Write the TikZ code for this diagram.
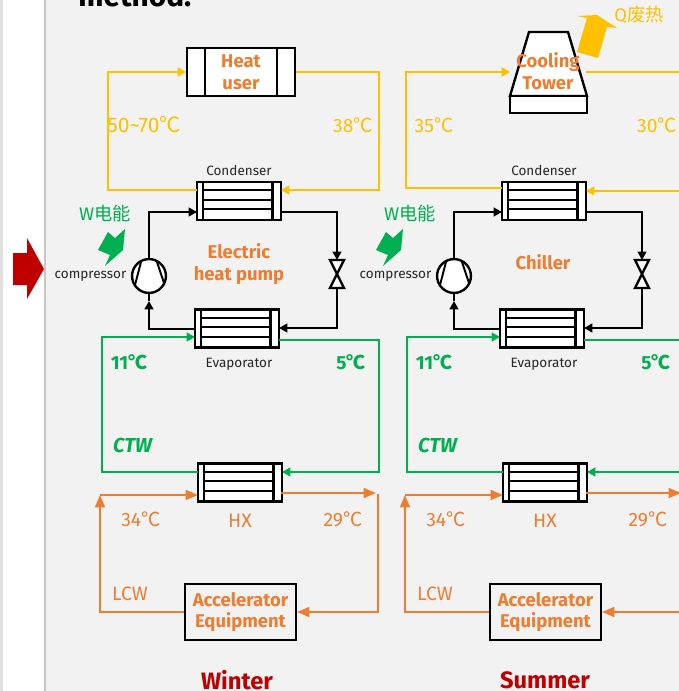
\documentclass[tikz,border=0pt]{standalone}
\usepackage{fontspec}
\usepackage{xcolor}
\setmainfont{Fira Sans}
\newfontfamily\cjk{Noto Sans CJK SC}
\usetikzlibrary{arrows.meta}
\definecolor{colBg}{RGB}{242,242,242}
\definecolor{colY}{RGB}{255,192,0}
\definecolor{colG}{RGB}{0,176,80}
\definecolor{colO}{RGB}{237,125,49}
\definecolor{colR}{RGB}{192,0,0}
\def\u{0.567pt}
\newcommand{\dgc}{{\cjk ℃}}
\tikzset{
    pipeK/.style={draw=black, line width=1.35pt},
    pipeY/.style={draw=colY, line width=1.35pt},
    pipeG/.style={draw=colG, line width=1.35pt},
    pipeO/.style={draw=colO, line width=1.35pt},
    tipS/.style={-{Triangle[length=4.8pt,width=5pt]}},
    tipL/.style={-{Triangle[length=7pt,width=5.5pt]}},
    hxbox/.style={draw=black, fill=white, line width=1.35pt, rectangle, inner sep=0pt,
        minimum width=84*\u, minimum height=38*\u},
    small/.style={font=\fontsize{7.7}{9}\selectfont, text=black!85},
    tempY/.style={font=\fontsize{11}{12}\selectfont, text=colY},
    tempG/.style={font=\fontsize{10.8}{12}\selectfont\bfseries, text=colG},
    tempO/.style={font=\fontsize{11}{12}\selectfont, text=colO},
    nameO/.style={font=\fontsize{10.5}{12.4}\selectfont\bfseries, text=colO, align=center},
    season/.style={font=\fontsize{13.5}{15}\selectfont\bfseries, text=colR, inner sep=0pt},
}
% exchanger: name, centre
\newcommand{\hxunit}[2]{
    \node[hxbox] (#1) at (#2) {};
    \foreach \s in {7,77} {
        \draw[line width=1.35pt] ([xshift=\s*\u]#1.north west) -- ([xshift=\s*\u]#1.south west);
    }
    \foreach \t in {9.5,19,28.5} {
        \draw[line width=1.2pt] ([xshift=7*\u,yshift=-\t*\u]#1.north west) -- ([xshift=77*\u,yshift=-\t*\u]#1.north west);
    }
}

\begin{document}
\begin{tikzpicture}[x=0.02cm, y=-0.02cm]

\useasboundingbox (0,0) rectangle (679,691);
\clip (0,0) rectangle (679,691);

% Page
\fill[white] (0,0) rectangle (679,691);
\fill[colBg] (45,0) rectangle (679,691);
\fill[black!12] (0,0) rectangle (3,691);
\draw[black!22, line width=0.6pt] (45,0) -- (45,691);
\fill[colR] (13,253) -- (27,253) -- (27,238) -- (44,269) -- (27,299) -- (27,285) -- (13,285) -- cycle;
\node[font=\fontsize{17}{20}\selectfont\bfseries, anchor=base west, inner sep=0pt] (title) at (78,6) {method:};

% Both panels
\foreach \ox/\p/\wx in {0/w/0, 305/s/278} {
\begin{scope}[xshift=\ox*0.02cm]

    \hxunit{cond\p}{239,201}
    \hxunit{evap\p}{237,328.5}
    \hxunit{hx\p}{240,482.5}
    \node[draw=black, line width=1.35pt, minimum width=111*\u, minimum height=56*\u,
          inner sep=0pt, nameO] (accel\p) at (240.5,612) {Accelerator\\Equipment};

    % Compressor
    \node[circle, draw=black, fill=white, line width=1.35pt, minimum size=34*\u, inner sep=0pt] (comp\p) at (149,276) {};
    \draw[line width=1.1pt] (141,262) -- (135,285);
    \draw[line width=1.1pt] (157,262) -- (164,283);

    % Expansion valve
    \coordinate (valveT\p) at (337,260);
    \coordinate (valveB\p) at (337,288);
    \draw[line width=1.35pt, fill=white] (330,260) -- (344,260) -- (330,288) -- (344,288) -- cycle;

    % Refrigerant
    \coordinate (condIn\p) at (197,212);
    \coordinate (condOut\p) at (281,212);
    \coordinate (evapIn\p) at (279,328);
    \coordinate (evapOut\p) at (195,329);
    \coordinate (compIn\p) at (149,301);
    \draw[pipeK, tipS] (comp\p.north) |- (condIn\p);
    \draw[pipeK, tipS] (condOut\p) -| (valveT\p);
    \draw[pipeK, tipS] (valveB\p) |- (evapIn\p);
    \draw[pipeK, tipS] (evapOut\p) -| (compIn\p);
    \draw[pipeK] (compIn\p) -- (comp\p.south);

    % CTW loop
    \coordinate (evapG\p) at (195,337);
    \coordinate (evapH\p) at (279,340);
    \coordinate (hxG\p) at (198,472);
    \coordinate (hxH\p) at (282,472);
    \coordinate (ctwL\p) at (102,337);
    \coordinate (ctwR\p) at (379,340);
    \draw[pipeG, tipS] (hxG\p) -| (ctwL\p) -- (evapG\p);
    \draw[pipeG, tipS] (evapH\p) -- (ctwR\p) |- (hxH\p);

    % LCW loop
    \coordinate (hxO\p) at (198,495);
    \coordinate (hxP\p) at (281,493);
    \coordinate (lcwL\p) at (100,495);
    \coordinate (lcwR\p) at (376,493);
    \coordinate (lcwT\p) at (378,494);
    \coordinate (lcwD\p) at (378,612);
    \draw[pipeO, tipL] (accel\p.west) -| (lcwL\p);
    \draw[pipeO, tipL] (lcwL\p) -- (hxO\p);
    \draw[pipeO, tipL] (hxP\p) -- (lcwR\p);
    \draw[pipeO, tipL] (lcwT\p) -- (lcwD\p) -- (accel\p.east);

    % Labels
    \node[small] (lblCond\p) at (239,171) {Condenser};
    \node[small] (lblEvap\p) at (239,364) {Evaporator};
    \node[small] (lblComp\p) at (90.5,276) {compressor};
    \node[font=\fontsize{10.4}{12}\selectfont, text=colG] (lblW\p) at (105,213.5) {W{\cjk 电能}};
    \node[tempG] (lblIn\p) at (129,362) {11\dgc};
    \node[tempG] (lblOut\p) at (351,362) {5\dgc};
    \node[tempG, font=\fontsize{11.5}{12}\selectfont\bfseries\itshape] (lblCtw\p) at (132.5,445) {CTW};
    \node[tempO] (lblHot\p) at (141,519) {34\dgc};
    \node[tempO] (lblHx\p) at (240,521) {HX};
    \node[tempO] (lblCold\p) at (343,519) {29\dgc};
    \node[tempO] (lblLcw\p) at (130,594) {LCW};
\end{scope}

    % Power input
    \begin{scope}[xshift=\wx*0.02cm]
        \fill[colG] (125,229) -- (123,250) -- (105,266) -- (110,255) -- (98,250) -- (108,232) -- (115,238) -- cycle;
    \end{scope}
}
\node[season] (lblWinter) at (237,680) {Winter};
\node[season] (lblSummer) at (545,680) {Summer};

% Winter: heat user
\node[draw=black, fill=white, line width=1.35pt, minimum width=108*\u, minimum height=48*\u,
      inner sep=0pt, nameO] (user) at (241,72) {Heat\\user};
\draw[line width=1.35pt] (205,48) -- (205,96);
\draw[line width=1.35pt] (277,48) -- (277,96);
\coordinate (condYLw) at (197,190);
\coordinate (condYRw) at (281,190);
\coordinate (userL) at (108,72);
\coordinate (userR) at (379,72);
\draw[pipeY, tipS] (condYLw) -| (userL) -- (user.west);
\draw[pipeY, tipS] (user.east) -- (userR) |- (condYRw);
\node[tempY, font=\fontsize{12}{12}\selectfont] (lblSup) at (144,125) {50{\char`\~}70\dgc};
\node[tempY] (lblRet) at (353,125) {38\dgc};
\node[nameO] (lblPump) at (239,264) {Electric\\heat pump};

% Summer: cooling tower
\draw[line width=1.35pt, fill=white] (529,32) -- (568,32) -- (587,96) -- (510,96) -- cycle;
\draw[line width=1.35pt, fill=white] (510,96) rectangle (587,113);
\node[nameO] (tower) at (548,71.5) {Cooling\\Tower};
\coordinate (towerIn) at (510,72);
\coordinate (towerOut) at (586,72);
\coordinate (condYLs) at (502,188);
\coordinate (condYRs) at (586,191);
\coordinate (towerL) at (406,72);
\coordinate (edgeT) at (690,72);
\coordinate (edgeB) at (690,191);
\draw[pipeY, tipS] (condYLs) -| (towerL) -- (towerIn);
\draw[pipeY] (towerOut) -- (edgeT);
\draw[pipeY, tipS] (edgeB) -- (condYRs);
\fill[colY] (577,52) -- (598,58) -- (607,27) -- (617,28) -- (597,15) -- (577,16) -- (587,18) -- cycle;
\node[font=\fontsize{10.4}{12}\selectfont, text=colY] (lblQ) at (639,15) {Q{\cjk 废热}};
\node[tempY] (lblSupS) at (434,125) {35\dgc};
\node[tempY] (lblRetS) at (657,125) {30\dgc};
\node[nameO] (lblChiller) at (543,262) {Chiller};

\end{tikzpicture}
\end{document}
